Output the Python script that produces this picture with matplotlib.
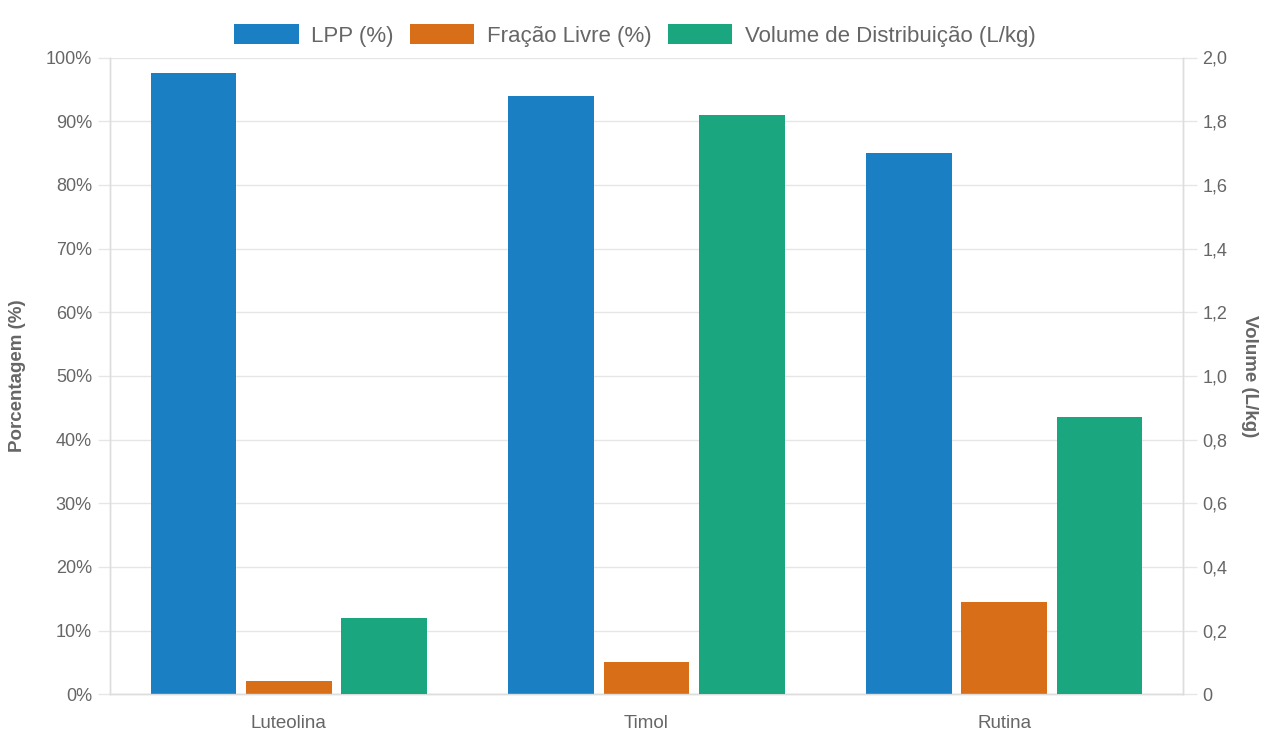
import numpy as np
import matplotlib.pyplot as plt
from matplotlib.ticker import FuncFormatter, MultipleLocator

plt.rcParams['font.family'] = ['Liberation Sans', 'DejaVu Sans']

# compounds and their pharmacokinetic values
compostos = ['Luteolina', 'Timol', 'Rutina']
lpp = [97.5, 94.0, 85.0]            # ligacao a proteinas plasmaticas (%)
fracao_livre = [2.1, 5.0, 14.5]     # fracao livre (%)
volume_dist = [0.24, 1.82, 0.87]    # volume de distribuicao (L/kg)

cor_lpp = '#1b7fc4'
cor_livre = '#d96e19'
cor_vol = '#1aa77f'
cor_texto = '#666666'
cor_grade = '#e6e6e6'

fig = plt.figure(figsize=(12.62, 7.33), dpi=100)
ax = fig.add_axes([110 / 1262, 1 - 694.3 / 733, (1183 - 110) / 1262, (694.3 - 57.5) / 733])
ax2 = ax.twinx()

x = np.arange(len(compostos))
slot = 0.8 / 3
larg = slot * 0.9

b1 = ax.bar(x - slot, lpp, larg, color=cor_lpp, label='LPP (%)', zorder=3)
b2 = ax.bar(x, fracao_livre, larg, color=cor_livre, label='Fração Livre (%)', zorder=3)
b3 = ax2.bar(x + slot, volume_dist, larg, color=cor_vol, label='Volume de Distribuição (L/kg)', zorder=3)

ax.set_xlim(-0.5, 2.5)
ax.set_ylim(0, 100)
ax2.set_ylim(0, 2.0)

ax.yaxis.set_major_locator(MultipleLocator(10))
ax.yaxis.set_major_formatter(FuncFormatter(lambda v, p: f'{v:.0f}%'))
ax2.yaxis.set_major_locator(MultipleLocator(0.2))
ax2.yaxis.set_major_formatter(FuncFormatter(lambda v, p: '0' if abs(v) < 1e-9 else f'{v:.1f}'.replace('.', ',')))

ax.set_xticks(x)
ax.set_xticklabels(compostos)
ax.tick_params(axis='x', length=0, pad=15, labelsize=13.5, labelcolor=cor_texto)
ax.tick_params(axis='y', length=9, width=1, color=cor_grade, pad=4, labelsize=13, labelcolor=cor_texto)
ax2.tick_params(axis='y', length=10, width=1, color=cor_grade, pad=4, labelsize=13, labelcolor=cor_texto)

ax.grid(axis='y', color=cor_grade, linewidth=1, zorder=0)
ax.set_axisbelow(True)

for a in (ax, ax2):
    a.spines['top'].set_visible(False)
    for s in ('left', 'right', 'bottom'):
        a.spines[s].set_color('#dddddd')
        a.spines[s].set_linewidth(1)

ax.set_ylabel('Porcentagem (%)', fontsize=13.5, fontweight='bold', color=cor_texto, labelpad=14)
ax2.set_ylabel('Volume (L/kg)', fontsize=13.5, fontweight='bold', color=cor_texto, rotation=-90, labelpad=22)

fig.legend(handles=[b1, b2, b3], loc='upper center', bbox_to_anchor=(0.503, 0.995), ncol=3,
           frameon=False, fontsize=16, labelcolor=cor_texto,
           handlelength=2.9, handleheight=1.05, handletextpad=0.55, columnspacing=0.75)

fig.savefig('out.png', dpi=100)
